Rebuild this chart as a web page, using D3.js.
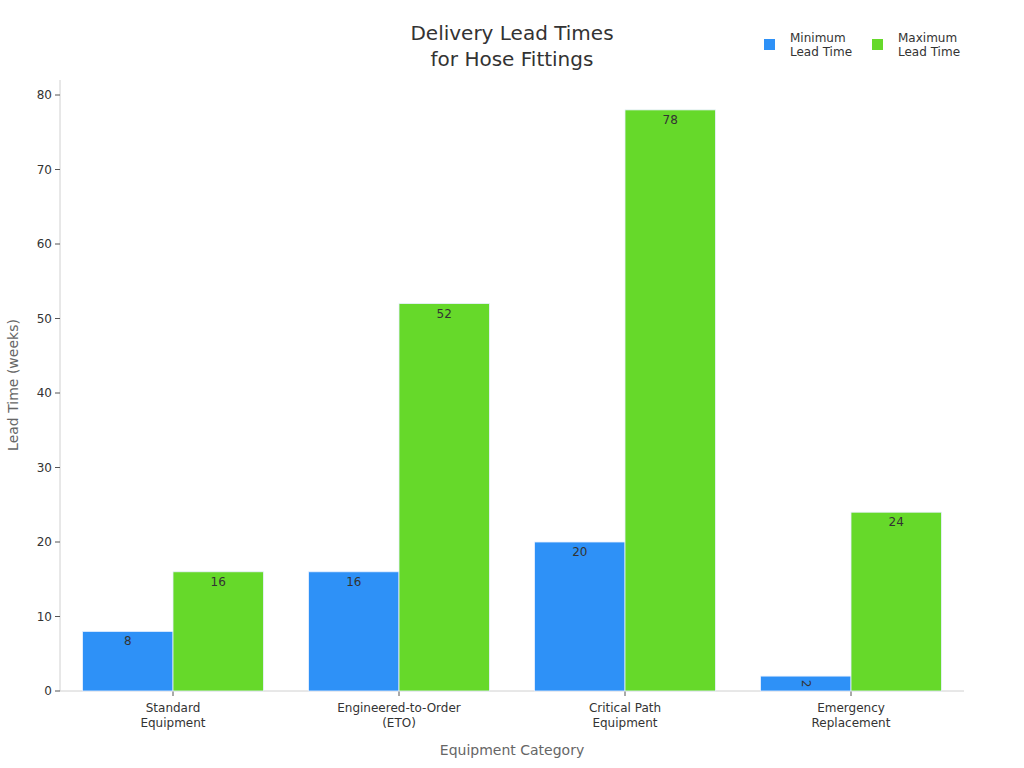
<!DOCTYPE html>
<html><head><meta charset="utf-8">
<script src="https://cdn.jsdelivr.net/npm/d3@7"></script>
<style>body{margin:0;background:#fff;} text{font-family:"DejaVu Sans",sans-serif;}</style>
</head><body>
<svg id="c" width="1024" height="768"></svg>
<script>
const categories = [["Standard","Equipment"],["Engineered-to-Order","(ETO)"],["Critical Path","Equipment"],["Emergency","Replacement"]];
const minLead = [8,16,20,2];
const maxLead = [16,52,78,24];
const seriesNames = [["Minimum","Lead Time"],["Maximum","Lead Time"]];
const yTicks = [0,10,20,30,40,50,60,70,80];
const colors = ["#2e91f7","#66d92a"];

const svg = d3.select("#c");
const L=60,R=964,T=80,B=691;
const x = d3.scaleBand().domain(d3.range(categories.length)).range([L,R]).paddingInner(0.2).paddingOuter(0.1);
const x1 = d3.scaleBand().domain([0,1]).range([0,x.bandwidth()]);
const y = d3.scaleLinear().domain([0,80]).range([B,95]);

// axes
svg.append("line").attr("x1",L).attr("x2",L).attr("y1",T).attr("y2",B).attr("stroke","#d0d0d0");
svg.append("line").attr("x1",L).attr("x2",R).attr("y1",B).attr("y2",B).attr("stroke","#d0d0d0");
const yg = svg.append("g");
yTicks.forEach(t=>{
  yg.append("line").attr("x1",L-5).attr("x2",L).attr("y1",y(t)).attr("y2",y(t)).attr("stroke","#555");
  yg.append("text").attr("x",L-8).attr("y",y(t)).attr("dy","0.35em").attr("text-anchor","end").attr("font-size",12).attr("fill","#333").text(t);
});
categories.forEach((c,i)=>{
  const cx = x(i)+x.bandwidth()/2;
  svg.append("line").attr("x1",cx).attr("x2",cx).attr("y1",B).attr("y2",B+5).attr("stroke","#555");
  c.forEach((s,j)=>svg.append("text").attr("x",cx).attr("y",B+21+j*15).attr("text-anchor","middle").attr("font-size",12).attr("fill","#333").text(s));
});

// bars
[minLead,maxLead].forEach((vals,si)=>{
  vals.forEach((v,i)=>{
    const bx = x(i)+x1(si), bw = x1.bandwidth();
    svg.append("rect").attr("x",bx).attr("y",y(v)).attr("width",bw).attr("height",B-y(v)).attr("fill",colors[si]).attr("stroke","#e8f0ff").attr("stroke-width",0.8);
    const lx = bx+bw/2;
    if (B-y(v) < 20) {
      svg.append("text").attr("transform",`translate(${lx},${(y(v)+B)/2}) rotate(90)`).attr("text-anchor","middle").attr("dy","0.35em").attr("font-size",12).attr("fill","#333").text(v);
    } else {
      svg.append("text").attr("x",lx).attr("y",y(v)+14).attr("text-anchor","middle").attr("font-size",12).attr("fill","#333").text(v);
    }
  });
});

// title
svg.append("text").attr("x",512).attr("y",40).attr("text-anchor","middle").attr("font-size",20).attr("fill","#333").text("Delivery Lead Times");
svg.append("text").attr("x",512).attr("y",66).attr("text-anchor","middle").attr("font-size",20).attr("fill","#333").text("for Hose Fittings");

// axis titles
svg.append("text").attr("x",512).attr("y",755).attr("text-anchor","middle").attr("font-size",14).attr("fill","#666").text("Equipment Category");
svg.append("text").attr("transform","translate(18,385) rotate(-90)").attr("text-anchor","middle").attr("font-size",14).attr("fill","#666").text("Lead Time (weeks)");

// legend
const lx0=[764,872];
seriesNames.forEach((n,i)=>{
  svg.append("rect").attr("x",lx0[i]).attr("y",39).attr("width",11).attr("height",11).attr("fill",colors[i]);
  n.forEach((s,j)=>svg.append("text").attr("x",lx0[i]+26).attr("y",42+j*14).attr("font-size",12).attr("fill","#333").text(s));
});
</script>
</body></html>
